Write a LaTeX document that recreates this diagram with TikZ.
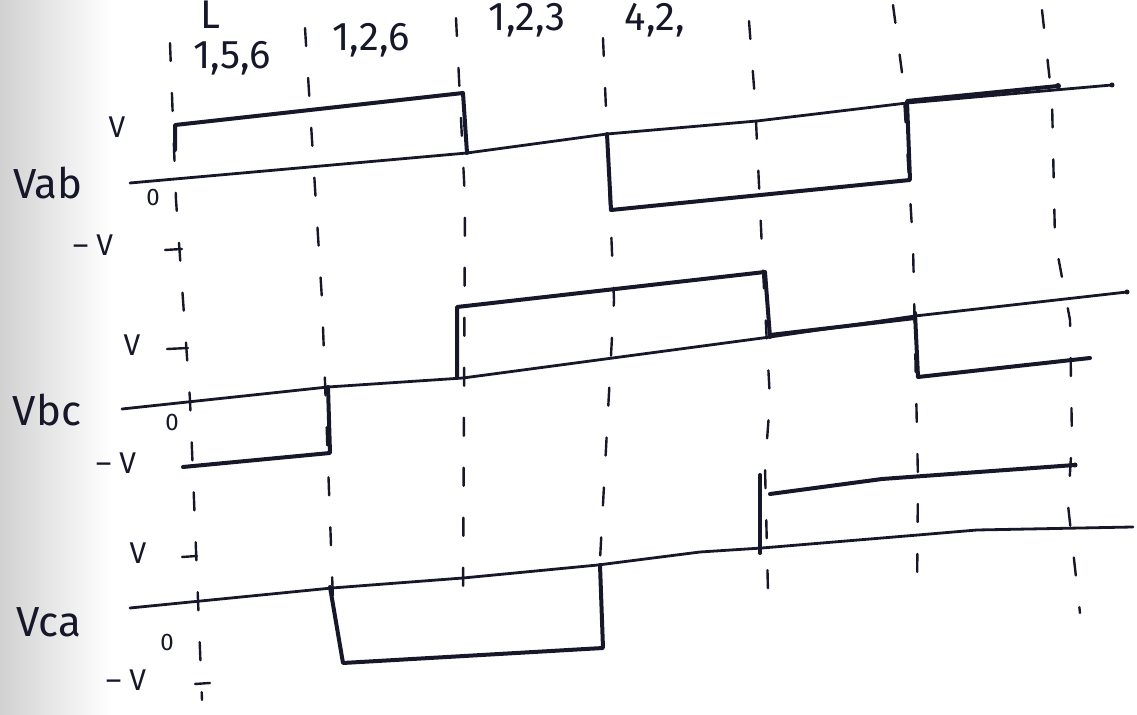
\documentclass[tikz,border=0pt]{standalone}
\usepackage{fontspec}
\setmainfont{Fira Sans}
\definecolor{ink}{RGB}{22,24,42}
\begin{document}
\begin{tikzpicture}[x=0.5pt,y=-0.5pt,
  wave/.style={draw=ink,line width=2pt,line join=round,line cap=round},
  axisline/.style={draw=ink,line width=1.4pt,line cap=round,line join=round},
  guide/.style={draw=ink,line width=1.2pt,line cap=round,dash pattern=on 9pt off 16pt},
  lbl/.style={text=ink,inner sep=0pt,font=\fontsize{21}{23}\selectfont},
  top/.style={text=ink,inner sep=0pt,font=\fontsize{20}{22}\selectfont},
  lvl/.style={text=ink,inner sep=0pt,font=\fontsize{15}{17}\selectfont},
  zero/.style={text=ink,inner sep=0pt,font=\fontsize{12}{14}\selectfont},
  tick/.style={draw=ink,line width=1.2pt,line cap=round}]
\useasboundingbox (0,0) rectangle (1137,715);
\shade[left color=black!18,right color=white] (0,0) rectangle (110,715);

% ---- top labels ----
\node[top] (tL) at (210,15) {L};
\node[top] (t1) at (232,58) {1,5,6};
\node[top] (t2) at (371,40) {1,2,6};
\node[top] (t3) at (527,20) {1,2,3};
\node[top] (t4) at (655,20) {4,2,};

% ---- dashed guides ----
\draw[guide] (170,43) -- (176,200) -- (190,400) -- (202,700);
\draw[guide] (305,28) -- (322,300) -- (333,600);
\draw[guide] (456,18) -- (465,200) -- (463,600);
\draw[guide] (603,38) -- (614,300) -- (600,560);
\draw[guide] (749,21) -- (755,100) -- (763,270) -- (770,400) -- (765,467) -- (768,592);
\draw[guide] (893,5) -- (903,80) -- (913,245) -- (918,480) -- (917,595);
\draw[guide] (1042,10) -- (1052,100) -- (1055,240) -- (1070,320) -- (1072,440) -- (1068,505) -- (1080,613);

% ---- Vab ----
\node[lbl] (Vab) at (48,183) {Vab};
\node[lvl] (abp) at (117,127) {V};
\node[zero] (abz) at (153,198) {0};
\node[lvl] (abm) at (93,245) {– V};
\draw[tick] (165,250) -- (182,249);
\draw[axisline] (130,183) -- (467,153) -- (607,134) -- (757,121) -- (907,103) -- (1112,85);
\fill[ink] (1112,85) circle (2.5);
\draw[wave] (175,150) -- (175,125) -- (463,93) -- (467,153);
\draw[wave] (607,134) -- (611,210) -- (910,180) -- (907,101) -- (1058,86);
\fill[ink] (1058,86) circle (3);

% ---- Vbc ----
\node[lbl] (Vbc) at (47,410) {Vbc};
\node[lvl] (bcp) at (132,345) {V};
\node[zero] (bcz) at (172,423) {0};
\node[lvl] (bcm) at (116,463) {– V};
\draw[tick] (167,349) -- (188,348);
\draw[axisline] (122,409) -- (328,387) -- (463,378) -- (770,337) -- (915,316) -- (1127,292);
\fill[ink] (1127,292) circle (2.5);
\draw[wave] (183,467) -- (330,453) -- (328,387);
\draw[wave] (457,378) -- (457,307) -- (765,272) -- (770,337);
\draw[wave] (770,335) -- (915,318);
\draw[wave] (915,313) -- (918,377) -- (1090,358);

% ---- Vca ----
\node[lbl] (Vca) at (49,622) {Vca};
\node[lvl] (cap) at (138,553) {V};
\node[zero] (caz) at (167,643) {0};
\node[lvl] (cam) at (126,680) {– V};
\draw[tick] (182,557) -- (197,556);
\draw[tick] (195,684) -- (210,683);
\draw[axisline] (130,608) -- (332,588) -- (463,578) -- (598,565) -- (700,552) -- (762,548) -- (918,535) -- (977,530) -- (1133,527);
\draw[wave] (330,587) -- (343,663) -- (603,648) -- (600,565);
\draw[wave] (760,475) -- (760,553);
\draw[wave] (770,494) -- (882,479) -- (1075,465);
\fill[ink] (1075,465) circle (2.5);
\end{tikzpicture}
\end{document}
